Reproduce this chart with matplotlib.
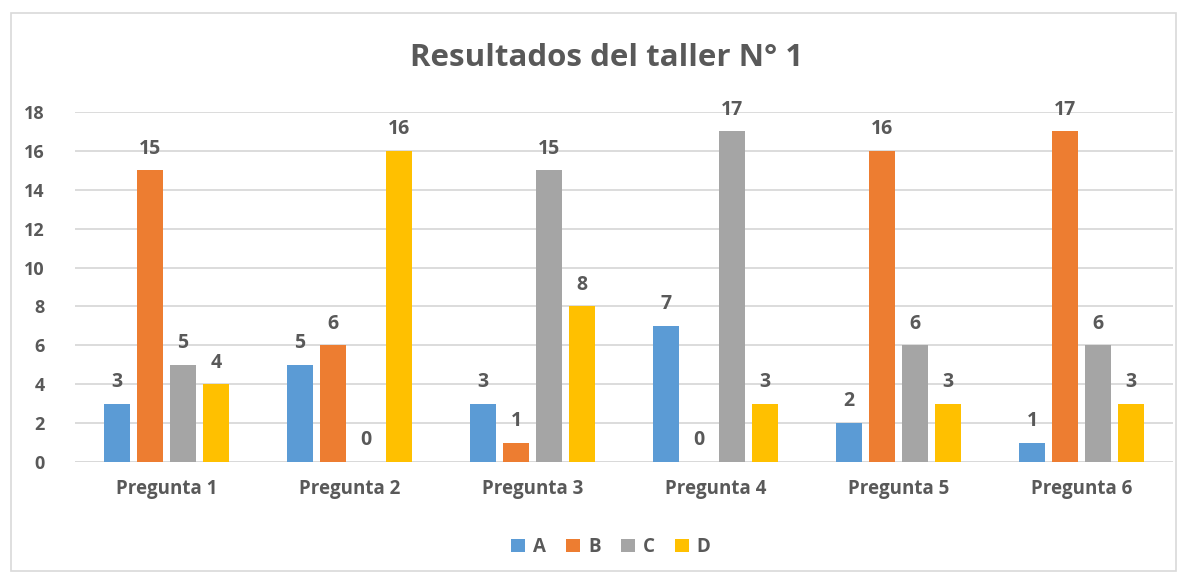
import numpy as np
import matplotlib
matplotlib.use("Agg")
from matplotlib import pyplot as plt
from matplotlib.patches import Rectangle

categories = ["Pregunta 1", "Pregunta 2", "Pregunta 3", "Pregunta 4", "Pregunta 5", "Pregunta 6"]
series_names = ["A", "B", "C", "D"]
values_a = [3, 5, 3, 7, 2, 1]
values_b = [15, 6, 1, 0, 16, 17]
values_c = [5, 0, 15, 17, 6, 6]
values_d = [4, 16, 8, 3, 3, 3]
yticks = [0, 2, 4, 6, 8, 10, 12, 14, 16, 18]

COLORS = ["#5B9BD5", "#ED7D31", "#A5A5A5", "#FFC000"]
TEXT = "#595959"
GRID = "#D9D9D9"

plt.rcParams["font.family"] = ["Open Sans", "DejaVu Sans"]
plt.rcParams["font.weight"] = "bold"

fig = plt.figure(figsize=(11.88, 5.76), dpi=100)
ax = fig.add_axes([75/1188, 1 - 462/576, (1173-75)/1188, 350/576])

# chart border
fig.patches.append(Rectangle((11/1188, 1 - 571/576), 1165/1188, 558/576,
                             transform=fig.transFigure, fill=False,
                             edgecolor=GRID, linewidth=1.2))

x = np.arange(len(categories))
width = 0.142
step = 0.18
all_values = [values_a, values_b, values_c, values_d]
for i, vals in enumerate(all_values):
    pos = x + (i - 1.5) * step
    bars = ax.bar(pos, vals, width, color=COLORS[i], label=series_names[i], zorder=3)
    for b, v in zip(bars, vals):
        ax.text(b.get_x() + b.get_width() / 2, v + 0.6, str(v), ha="center", va="bottom",
                fontsize=14, fontweight="bold", color=TEXT)

ax.set_ylim(0, 18)
ax.set_xlim(-0.5, len(categories) - 0.5)
ax.set_yticks(yticks)
ax.set_yticklabels([str(t) for t in yticks], fontsize=13, fontweight="bold", color=TEXT)
ax.set_xticks(x)
ax.set_xticklabels(categories, fontsize=13.5, fontweight="bold", color=TEXT)
ax.tick_params(axis="both", length=0)
ax.tick_params(axis="y", pad=22)
ax.tick_params(axis="x", pad=12)
ax.yaxis.grid(True, color=GRID, linewidth=1.3, zorder=0)
for s in ax.spines.values():
    s.set_visible(False)
ax.axhline(0, color=GRID, linewidth=1.3, zorder=2)

fig.text(607/1188, 1 - 58/576, "Resultados del taller N° 1", ha="center", va="center",
         fontsize=22.5, fontweight="bold", color=TEXT)

leg = fig.legend(loc="center", bbox_to_anchor=(611/1188, 1 - 547/576), ncol=4, frameon=False,
                 fontsize=13.5, handlelength=0.75, handleheight=0.75, handletextpad=0.4,
                 columnspacing=1.1)
for t in leg.get_texts():
    t.set_color(TEXT)
    t.set_fontweight("bold")

fig.savefig("out.png", dpi=100, facecolor="white")
